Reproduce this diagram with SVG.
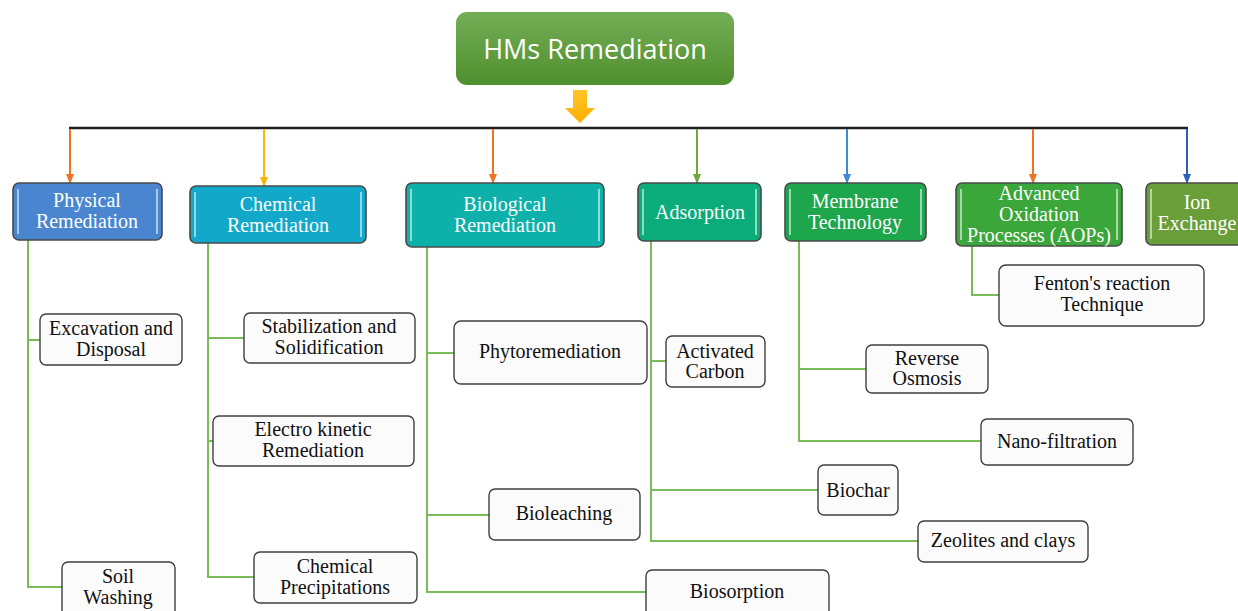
<svg xmlns="http://www.w3.org/2000/svg" width="1238" height="611" viewBox="0 0 1238 611">
<defs>
<style>
.cat{stroke:#4a4a4a;stroke-width:1.6}
.hl{stroke:#ffffff;stroke-opacity:0.55;stroke-width:2;fill:none}
.ct{font-family:"Liberation Serif","Times New Roman",serif;font-size:20px;fill:#ffffff;text-anchor:middle}
.box{fill:#fbfbfb;stroke:#3f3f3f;stroke-width:1.4}
.bt{font-family:"Liberation Serif","Times New Roman",serif;font-size:20px;fill:#111111;text-anchor:middle}
.g{stroke:#7cbb5a;stroke-width:2;fill:none}
</style>
<linearGradient id="topg" x1="0" y1="0" x2="0" y2="1">
<stop offset="0" stop-color="#74ad55"/>
<stop offset="1" stop-color="#4f8f2e"/>
</linearGradient>
<linearGradient id="arrg" x1="0" y1="0" x2="0" y2="1">
<stop offset="0" stop-color="#ffc629"/>
<stop offset="1" stop-color="#ffae00"/>
</linearGradient>
<marker id="mo" markerWidth="10" markerHeight="8" refX="9" refY="4" orient="auto" markerUnits="userSpaceOnUse"><path d="M0,0 L10,4 L0,8 Z" fill="#ef7324"/></marker>
<marker id="my" markerWidth="10" markerHeight="8" refX="9" refY="4" orient="auto" markerUnits="userSpaceOnUse"><path d="M0,0 L10,4 L0,8 Z" fill="#ffb400"/></marker>
<marker id="mg" markerWidth="10" markerHeight="8" refX="9" refY="4" orient="auto" markerUnits="userSpaceOnUse"><path d="M0,0 L10,4 L0,8 Z" fill="#6fa63e"/></marker>
<marker id="mb" markerWidth="10" markerHeight="8" refX="9" refY="4" orient="auto" markerUnits="userSpaceOnUse"><path d="M0,0 L10,4 L0,8 Z" fill="#3d8ad6"/></marker>
<marker id="md" markerWidth="10" markerHeight="8" refX="9" refY="4" orient="auto" markerUnits="userSpaceOnUse"><path d="M0,0 L10,4 L0,8 Z" fill="#2c5fbe"/></marker>
</defs>
<rect width="1238" height="611" fill="#ffffff"/>

<g id="connectors">
<polygon points="573,90 587,90 587,108 595,108 580,123 565,108 573,108" fill="url(#arrg)"/>
<line x1="69" y1="128" x2="1188" y2="128" stroke="#1e1e1e" stroke-width="2.5"/>
<line x1="70" y1="129" x2="70" y2="183" stroke="#ef7324" stroke-width="2" marker-end="url(#mo)"/>
<line x1="264" y1="129" x2="264" y2="186" stroke="#ffb400" stroke-width="2" marker-end="url(#my)"/>
<line x1="493" y1="129" x2="493" y2="183" stroke="#ef7324" stroke-width="2" marker-end="url(#mo)"/>
<line x1="697" y1="129" x2="697" y2="183" stroke="#6fa63e" stroke-width="2" marker-end="url(#mg)"/>
<line x1="847" y1="129" x2="847" y2="183" stroke="#3d8ad6" stroke-width="2" marker-end="url(#mb)"/>
<line x1="1033" y1="129" x2="1033" y2="183" stroke="#ef7324" stroke-width="2" marker-end="url(#mo)"/>
<line x1="1187" y1="129" x2="1187" y2="183" stroke="#2c5fbe" stroke-width="2" marker-end="url(#md)"/>
<path class="g" d="M28,240 V587 H62 M28,340 H40"/>
<path class="g" d="M208,243 V577 H254 M208,338 H244 M208,441 H213"/>
<path class="g" d="M427,247 V592 H646 M427,353 H454 M427,515 H489"/>
<path class="g" d="M651,241 V541 H918 M651,361 H666 M651,490 H818"/>
<path class="g" d="M799,241 V441 H981 M799,369 H866"/>
<path class="g" d="M972,246 V295 H999"/>
</g>

<g id="hms">
<rect x="456" y="12" width="278" height="73" rx="11" fill="url(#topg)"/>
<text x="595" y="59" font-family="'Open Sans','Liberation Sans',sans-serif" font-size="27" fill="#ffffff" text-anchor="middle">HMs Remediation</text>
</g>

<g id="physical">
<rect class="cat" x="13" y="183" width="149" height="57" rx="6" fill="#4a86d0"/>
<path class="hl" d="M18,189 V234 M157,189 V234"/>
<text class="ct" x="87" y="207">Physical</text>
<text class="ct" x="87" y="228">Remediation</text>
</g>
<g id="chemical">
<rect class="cat" x="190" y="186" width="176" height="57" rx="6" fill="#12a8c9"/>
<path class="hl" d="M195,192 V237 M361,192 V237"/>
<text class="ct" x="278" y="211">Chemical</text>
<text class="ct" x="278" y="232">Remediation</text>
</g>
<g id="biological">
<rect class="cat" x="406" y="183" width="198" height="64" rx="6" fill="#0db1a9"/>
<path class="hl" d="M411,189 V241 M599,189 V241"/>
<text class="ct" x="505" y="211">Biological</text>
<text class="ct" x="505" y="232">Remediation</text>
</g>
<g id="adsorption">
<rect class="cat" x="638" y="183" width="123" height="58" rx="6" fill="#0bab7a"/>
<path class="hl" d="M643,189 V235 M756,189 V235"/>
<text class="ct" x="700" y="219">Adsorption</text>
</g>
<g id="membrane">
<rect class="cat" x="785" y="183" width="141" height="58" rx="6" fill="#1ea64c"/>
<path class="hl" d="M790,189 V235 M921,189 V235"/>
<text class="ct" x="855" y="208">Membrane</text>
<text class="ct" x="855" y="229">Technology</text>
</g>
<g id="aops">
<rect class="cat" x="956" y="183" width="166" height="63" rx="6" fill="#3ba63a"/>
<path class="hl" d="M961,189 V240 M1117,189 V240"/>
<text class="ct" x="1039" y="200">Advanced</text>
<text class="ct" x="1039" y="221">Oxidation</text>
<text class="ct" x="1039" y="242">Processes (AOPs)</text>
</g>
<g id="ion">
<rect class="cat" x="1146" y="183" width="100" height="62" rx="6" fill="#6a9e39"/>
<path class="hl" d="M1151,189 V239"/>
<text class="ct" x="1197" y="209">Ion</text>
<text class="ct" x="1197" y="230">Exchange</text>
</g>

<g id="excavation">
<rect class="box" x="40" y="314" width="142" height="51" rx="6"/>
<text class="bt" x="111" y="335">Excavation and</text>
<text class="bt" x="111" y="356">Disposal</text>
</g>
<g id="soil">
<rect class="box" x="62" y="562" width="113" height="60" rx="6"/>
<text class="bt" x="118" y="583">Soil</text>
<text class="bt" x="118" y="604">Washing</text>
</g>
<g id="stabilization">
<rect class="box" x="244" y="313" width="171" height="50" rx="6"/>
<text class="bt" x="329" y="333">Stabilization and</text>
<text class="bt" x="329" y="354">Solidification</text>
</g>
<g id="electro">
<rect class="box" x="213" y="416" width="201" height="50" rx="6"/>
<text class="bt" x="313" y="436">Electro kinetic</text>
<text class="bt" x="313" y="457">Remediation</text>
</g>
<g id="precip">
<rect class="box" x="254" y="552" width="163" height="51" rx="6"/>
<text class="bt" x="335" y="573">Chemical</text>
<text class="bt" x="335" y="594">Precipitations</text>
</g>
<g id="phyto">
<rect class="box" x="454" y="321" width="193" height="63" rx="7"/>
<text class="bt" x="550" y="358">Phytoremediation</text>
</g>
<g id="bioleaching">
<rect class="box" x="489" y="489" width="151" height="51" rx="6"/>
<text class="bt" x="564" y="520">Bioleaching</text>
</g>
<g id="biosorption">
<rect class="box" x="646" y="570" width="183" height="52" rx="6"/>
<text class="bt" x="737" y="598">Biosorption</text>
</g>
<g id="activated">
<rect class="box" x="666" y="336" width="99" height="51" rx="6"/>
<text class="bt" x="715" y="358">Activated</text>
<text class="bt" x="715" y="378">Carbon</text>
</g>
<g id="biochar">
<rect class="box" x="818" y="465" width="80" height="50" rx="6"/>
<text class="bt" x="858" y="497">Biochar</text>
</g>
<g id="zeolites">
<rect class="box" x="918" y="521" width="170" height="41" rx="6"/>
<text class="bt" x="1003" y="547">Zeolites and clays</text>
</g>
<g id="reverse">
<rect class="box" x="866" y="345" width="122" height="48" rx="6"/>
<text class="bt" x="927" y="365">Reverse</text>
<text class="bt" x="927" y="385">Osmosis</text>
</g>
<g id="nano">
<rect class="box" x="981" y="419" width="152" height="46" rx="6"/>
<text class="bt" x="1057" y="448">Nano-filtration</text>
</g>
<g id="fenton">
<rect class="box" x="999" y="265" width="205" height="61" rx="7"/>
<text class="bt" x="1102" y="290">Fenton's reaction</text>
<text class="bt" x="1102" y="311">Technique</text>
</g>
</svg>
